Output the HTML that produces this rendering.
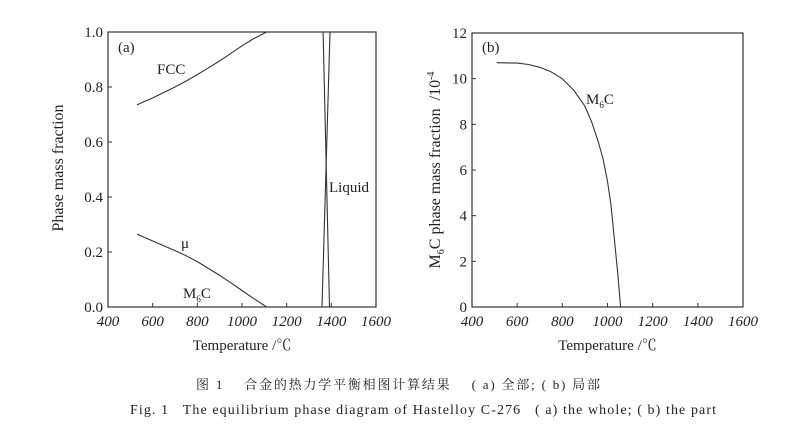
<!DOCTYPE html>
<html><head><meta charset="utf-8"><style>
body{margin:0;background:#fff;width:800px;height:439px;overflow:hidden}
svg text{font-family:"Liberation Serif","Noto Serif CJK SC",serif;fill:#222;white-space:pre}
</style></head><body>
<svg id="c" width="800" height="439"></svg>
<script>
const ticksA_x=[400,600,800,1000,1200,1400,1600];
const ticksA_y=[0.0,0.2,0.4,0.6,0.8,1.0];
const fccT=[530,570,600,650,700,750,800,850,900,950,1000,1050,1110];
const fccV=[0.735,0.75,0.76,0.78,0.80,0.822,0.845,0.87,0.895,0.922,0.95,0.975,1.0];
const muT=[530,600,650,700,750,800,850,900,950,1000,1050,1110];
const muV=[0.265,0.24,0.223,0.205,0.186,0.165,0.14,0.115,0.088,0.06,0.032,0.0];
const liqAT=[1363,1392];const liqAV=[1.0,0.0];
const liqBT=[1394,1358];const liqBV=[1.0,0.0];
const ticksB_y=[0,2,4,6,8,10,12];
const m6cT=[510,600,650,700,750,800,850,900,930,960,980,1000,1015,1030,1045,1058];
const m6cV=[10.7,10.68,10.62,10.5,10.3,10.0,9.5,8.8,8.1,7.2,6.5,5.5,4.5,3.0,1.5,0];
const NS='http://www.w3.org/2000/svg';
const svg=document.getElementById('c');
function el(t,a,txt){const e=document.createElementNS(NS,t);for(const k in a)e.setAttribute(k,a[k]);if(txt!=null)e.textContent=txt;svg.appendChild(e);return e;}
function panel(L,R,T,B,ymax,yt,yfmt,id){
  const sx=v=>L+(v-400)/1200*(R-L), sy=v=>B-v/ymax*(B-T);
  const f=el('rect',{x:L,y:T,width:R-L,height:B-T,fill:'none',stroke:'#333','stroke-width':1.2});
  
  ticksA_x.forEach(v=>{el('line',{x1:sx(v),x2:sx(v),y1:B,y2:B-4,stroke:'#333'});
    const t=el('text',{x:sx(v),y:B+19,'text-anchor':'middle','font-size':15,'font-style':'italic'},v);
    });
  yt.forEach(v=>{el('line',{x1:L,x2:L+4,y1:sy(v),y2:sy(v),stroke:'#333'});
    const t=el('text',{x:L-5,y:sy(v)+5,'text-anchor':'end','font-size':15},yfmt(v));
    });
  const xt=el('text',{x:(L+R)/2,y:B+43,'text-anchor':'middle','font-size':15},'Temperature /℃');
  
  return {sx,sy};
}
function line(s,T,V,name){
  const d=T.map((t,i)=>(i?'L':'M')+s.sx(t).toFixed(1)+','+s.sy(V[i]).toFixed(1)).join('');
  const p=el('path',{d,fill:'none',stroke:'#333','stroke-width':1.1,'stroke-linejoin':'round'});
  
}
const a=panel(108,376,32,307,1,ticksA_y,v=>v.toFixed(1),'panel-a');
line(a,fccT,fccV,'fcc-curve');line(a,muT,muV,'mu-curve');
line(a,liqAT,liqAV,'liquid-line-1');line(a,liqBT,liqBV,'liquid-line-2');
const b=panel(472,743,33,307,12,ticksB_y,v=>v,'panel-b');
line(b,m6cT,m6cV,'m6c-curve');
function lab(x,y,html,name,size,rot){const t=el('text',{x,y,'font-size':size||15});t.innerHTML=html;
  if(rot)t.setAttribute('transform',`rotate(-90 ${x} ${y})`),t.setAttribute('text-anchor','middle');
  }
lab(118,52,'(a)','panel-a-label');
lab(157,74,'FCC','fcc-label');
lab(181,248,'μ','mu-label');
lab(183,298,'M<tspan font-size="9" dy="4">6</tspan><tspan dy="-4">C</tspan>','m6c-label-a');
lab(329,192,'Liquid','liquid-label');
lab(482,52,'(b)','panel-b-label');
lab(586,104,'M<tspan font-size="9" dy="4">6</tspan><tspan dy="-4">C</tspan>','m6c-label-b');
lab(63,168,'Phase mass fraction','panel-a-y-axis-title',16,true);
lab(440,170,'M<tspan font-size="10" dy="4">6</tspan><tspan dy="-4">C phase mass fraction  /10</tspan><tspan font-size="10" dy="-6">-4</tspan>','panel-b-y-axis-title',16,true);
const c1=el('text',{x:196,y:389,'font-size':13,textLength:404,lengthAdjust:'spacing'},'图 1    合金的热力学平衡相图计算结果    ( a) 全部; ( b) 局部');

const c2=el('text',{x:130,y:414,'font-size':14,textLength:586,lengthAdjust:'spacing'},'Fig. 1   The equilibrium phase diagram of Hastelloy C-276   ( a) the whole; ( b) the part');

</script>
</body></html>
